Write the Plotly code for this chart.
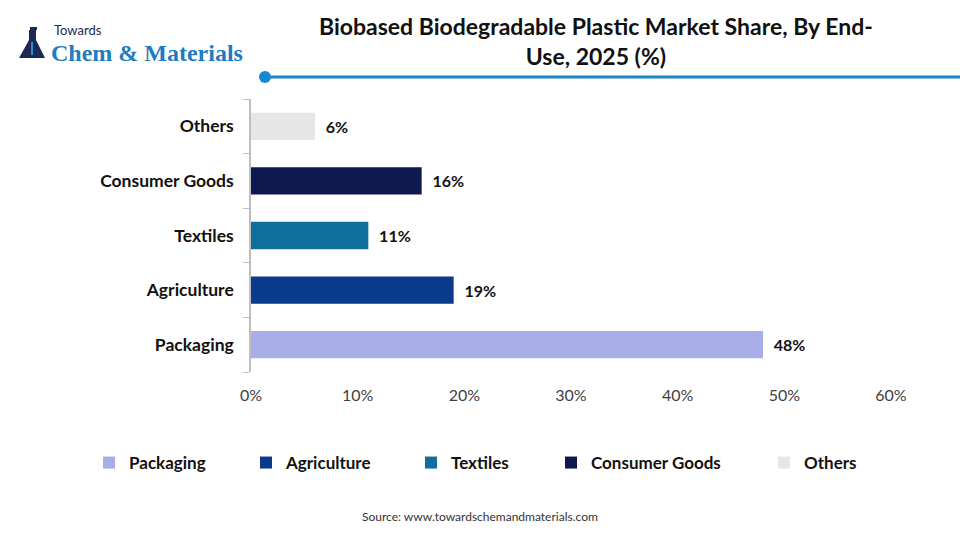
import plotly.graph_objects as go

categories = ["Packaging", "Agriculture", "Textiles", "Consumer Goods", "Others"]
values = [48, 19, 11, 16, 6]
colors = ["#A8AEE8", "#0A3A8C", "#0E6E9E", "#0E1A4F", "#E6E6E6"]
x_ticks = [0, 10, 20, 30, 40, 50, 60]
x_tick_labels = ["0%", "10%", "20%", "30%", "40%", "50%", "60%"]

W, H = 960, 540
ML, MR, MT, MB = 251, 69, 99, 168
PW, PH = W - ML - MR, H - MT - MB

def px(x):
    return (x - ML) / PW

def py(y):
    return (H - MB - y) / PH

FONT = "Lato"
legend_text_x = [129, 286, 451, 591, 804]

fig = go.Figure()
for i, (c, v, col) in enumerate(zip(categories, values, colors)):
    lg = "legend" if i == 0 else f"legend{i+1}"
    fig.add_trace(go.Bar(
        y=[c], x=[v], orientation="h", name=c,
        marker=dict(color=col, line=dict(width=0)),
        width=0.5,
        text=[f"\u00a0\u00a0{v}%"], textposition="outside",
        textfont=dict(family=FONT, size=16, color="#111111", weight="bold"),
        cliponaxis=False,
        legend=lg,
        hoverinfo="skip",
    ))

layout_legends = {}
for i, tx in enumerate(legend_text_x):
    key = "legend" if i == 0 else f"legend{i+1}"
    layout_legends[key] = dict(
        x=px(tx - 40), y=py(463), xref="paper", yref="paper",
        xanchor="left", yanchor="middle", orientation="h",
        font=dict(family=FONT, size=17, color="#111111", weight="bold"),
        bgcolor="rgba(0,0,0,0)", itemwidth=30,
    )

fig.update_layout(
    width=W, height=H,
    margin=dict(l=ML, r=MR, t=MT, b=MB, pad=0),
    paper_bgcolor="white", plot_bgcolor="white",
    barmode="overlay",
    showlegend=True,
    xaxis=dict(
        range=[0, 60], tickvals=x_ticks, ticktext=x_tick_labels,
        showgrid=False, zeroline=False, showline=False, ticks="",
        tickfont=dict(family=FONT, size=16, color="#404040"),
        ticklabelstandoff=12, fixedrange=True,
    ),
    yaxis=dict(
        categoryorder="array", categoryarray=categories,
        showgrid=False, zeroline=False, showline=True, linecolor="#BFBFBF", linewidth=1.5,
        ticks="outside", tickson="boundaries", ticklen=6, tickcolor="#BFBFBF",
        tickfont=dict(family=FONT, size=17.5, color="#111111", weight="bold"),
        ticklabelstandoff=12, fixedrange=True,
    ),
    **layout_legends,
)

# Title
fig.add_annotation(
    text="Biobased Biodegradable Plastic Market Share, By End-<br>Use, 2025 (%)",
    x=px(596), y=py(41), xref="paper", yref="paper", xanchor="center", yanchor="middle",
    showarrow=False, align="center",
    font=dict(family=FONT, size=23, color="#111111", weight="bold"),
)
# Title rule line and dot
fig.add_shape(type="line", xref="paper", yref="paper", x0=px(265), x1=px(960), y0=py(77), y1=py(77),
              line=dict(color="#1E86C2", width=3))
fig.add_shape(type="circle", xref="paper", yref="paper", x0=px(259), x1=px(271), y0=py(71), y1=py(83),
              fillcolor="#1588D2", line=dict(width=0))

# Logo
fig.add_annotation(text="Towards", x=px(52), y=py(30), xref="paper", yref="paper",
                   xanchor="left", yanchor="middle", showarrow=False,
                   font=dict(family=FONT, size=13, color="#1B2A55"))
fig.add_annotation(text="Chem &amp; Materials", x=px(49), y=py(53), xref="paper", yref="paper",
                   xanchor="left", yanchor="middle", showarrow=False,
                   font=dict(family="Liberation Serif", size=24, color="#1E7CC0", weight="bold"))
# flask icon
fig.add_shape(type="path", xref="paper", yref="paper",
              path=f"M {px(31)} {py(30)} L {px(36)} {py(30)} L {px(36)} {py(40)} L {px(45)} {py(58)} "
                   f"L {px(19)} {py(58)} L {px(29)} {py(40)} L {px(29)} {py(30)} Z",
              fillcolor="#1B2A55", line=dict(width=0))
fig.add_shape(type="rect", xref="paper", yref="paper", x0=px(30), x1=px(37), y0=py(27), y1=py(30),
              fillcolor="#1B2A55", line=dict(width=0))
fig.add_shape(type="rect", xref="paper", yref="paper", x0=px(31), x1=px(33), y0=py(42), y1=py(55),
              fillcolor="#2E8BD0", line=dict(width=0))

# Source
fig.add_annotation(text="Source: www.towardschemandmaterials.com", x=px(480), y=py(516),
                   xref="paper", yref="paper", xanchor="center", yanchor="middle", showarrow=False,
                   font=dict(family=FONT, size=12, color="#333333"))

fig.write_html("out.html")
